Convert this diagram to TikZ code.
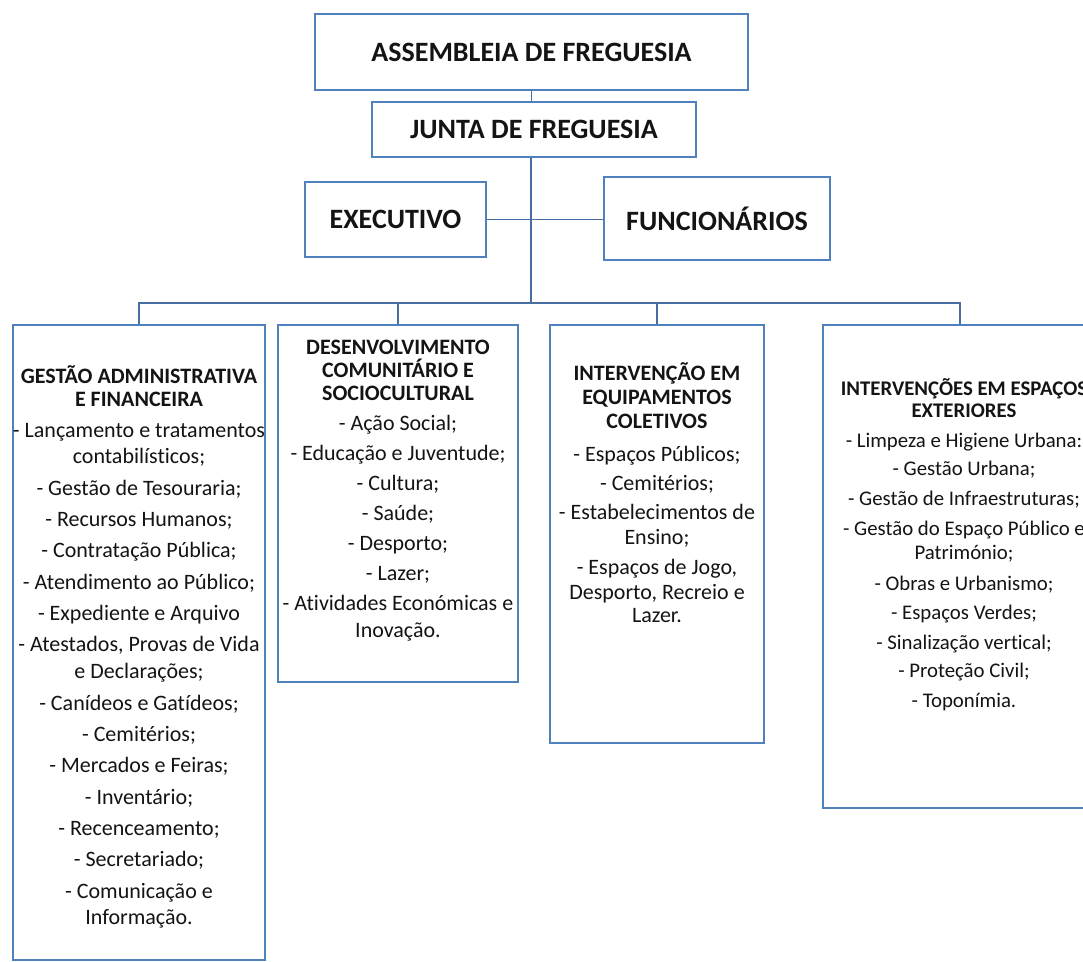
\documentclass[tikz,border=0pt]{standalone}
\usepackage{fontspec}
\setmainfont{Carlito}[Ligatures={NoCommon}]
\definecolor{bx}{RGB}{79,129,189}
\definecolor{cn}{RGB}{70,110,160}
\definecolor{tx}{RGB}{20,20,20}
\begin{document}
\begin{tikzpicture}[x=0.75pt,y=-0.75pt,
  box/.style={draw=bx, line width=1.7pt, fill=white, inner sep=0pt},
  conn/.style={draw=cn, line width=1.4pt},
  toptext/.style={text=tx, font=\fontsize{21}{24}\selectfont\bfseries},
  body/.style={text=tx, align=center, inner sep=0pt, anchor=north, font=\fontsize{16.5}{18.75}\selectfont},
  bodysmall/.style={body, font=\fontsize{15.6}{18.75}\selectfont}]
\useasboundingbox[fill=white] (0,0) rectangle (1083,962);

% top boxes
\node[box, toptext, minimum width=324.75pt, minimum height=57pt] (A) at (531.5,52) {ASSEMBLEIA DE FREGUESIA};
\node[box, toptext, minimum width=243pt, minimum height=41.25pt] (J) at (534,129.5) {JUNTA DE FREGUESIA};
\node[box, toptext, minimum width=135.75pt, minimum height=56.25pt] (E) at (395.5,219.5) {EXECUTIVO};
\node[box, toptext, minimum width=169.5pt, minimum height=62.25pt] (F) at (717,218.5) {FUNCIONÁRIOS};

% department boxes
\node[box, minimum width=189pt, minimum height=476.25pt] (B1) at (139,642.5) {};
\node[box, minimum width=180pt, minimum height=267.75pt] (B2) at (398,503.5) {};
\node[box, minimum width=160.5pt, minimum height=313.5pt] (B3) at (657,534) {};
\node[box, minimum width=210pt, minimum height=362.25pt] (B4) at (963,566.5) {};

% connectors
\coordinate (bus) at (531,303);
\coordinate (d4) at (960,303);
\draw[conn] (A.south) -- (A.south |- J.north);
\draw[conn] (bus |- J.south) -- (bus);
\draw[conn] (E.east) -- (F.west |- E.east);
\draw[conn] (B1.north) -- (B1.north |- bus) -- (d4) -- (d4 |- B4.north);
\draw[conn] (B2.north) -- (B2.north |- bus);
\draw[conn] (B3.north) -- (B3.north |- bus);

% texts
\node[body] (T1) at (139,365) {\textbf{GESTÃO ADMINISTRATIVA}\\[-1.5pt]
\textbf{E FINANCEIRA}\\[5pt]
- Lançamento e tratamentos\\[0.75pt]
contabilísticos;\\[4.75pt]
- Gestão de Tesouraria;\\[4.75pt]
- Recursos Humanos;\\[4.75pt]
- Contratação Pública;\\[4.75pt]
- Atendimento ao Público;\\[4.75pt]
- Expediente e Arquivo\\[4.75pt]
- Atestados, Provas de Vida\\[1.5pt]
e Declarações;\\[4.75pt]
- Canídeos e Gatídeos;\\[4.75pt]
- Cemitérios;\\[4.75pt]
- Mercados e Feiras;\\[4.75pt]
- Inventário;\\[4.75pt]
- Recenceamento;\\[4.75pt]
- Secretariado;\\[4.75pt]
- Comunicação e\\[0.75pt]
Informação.};

\node[body] (T2) at (398,340) {\textbf{DESENVOLVIMENTO}\\[-1.5pt]
\textbf{COMUNITÁRIO E}\\[-1.5pt]
\textbf{SOCIOCULTURAL}\\[3.75pt]
- Ação Social;\\[3.75pt]
- Educação e Juventude;\\[3.75pt]
- Cultura;\\[3.75pt]
- Saúde;\\[3.75pt]
- Desporto;\\[3.75pt]
- Lazer;\\[3.75pt]
- Atividades Económicas e\\[1.5pt]
Inovação.};

\node[body] (T3) at (657,362) {\textbf{INTERVENÇÃO EM}\\[-0.5pt]
\textbf{EQUIPAMENTOS}\\[-0.5pt]
\textbf{COLETIVOS}\\[6pt]
- Espaços Públicos;\\[2.5pt]
- Cemitérios;\\[3pt]
- Estabelecimentos de\\[0pt]
Ensino;\\[3.75pt]
- Espaços de Jogo,\\[0pt]
Desporto, Recreio e\\[-1pt]
Lazer.};

\node[bodysmall] (T4) at (964,378) {\textbf{INTERVENÇÕES EM ESPAÇOS}\\[-2pt]
\textbf{EXTERIORES}\\[3.75pt]
- Limpeza e Higiene Urbana:\\[2.5pt]
- Gestão Urbana;\\[3.75pt]
- Gestão de Infraestruturas;\\[3.75pt]
- Gestão do Espaço Público e\\[-1pt]
Património;\\[4.5pt]
- Obras e Urbanismo;\\[3pt]
- Espaços Verdes;\\[3.75pt]
- Sinalização vertical;\\[2.5pt]
- Proteção Civil;\\[3.75pt]
- Toponímia.};
\end{tikzpicture}
\end{document}
